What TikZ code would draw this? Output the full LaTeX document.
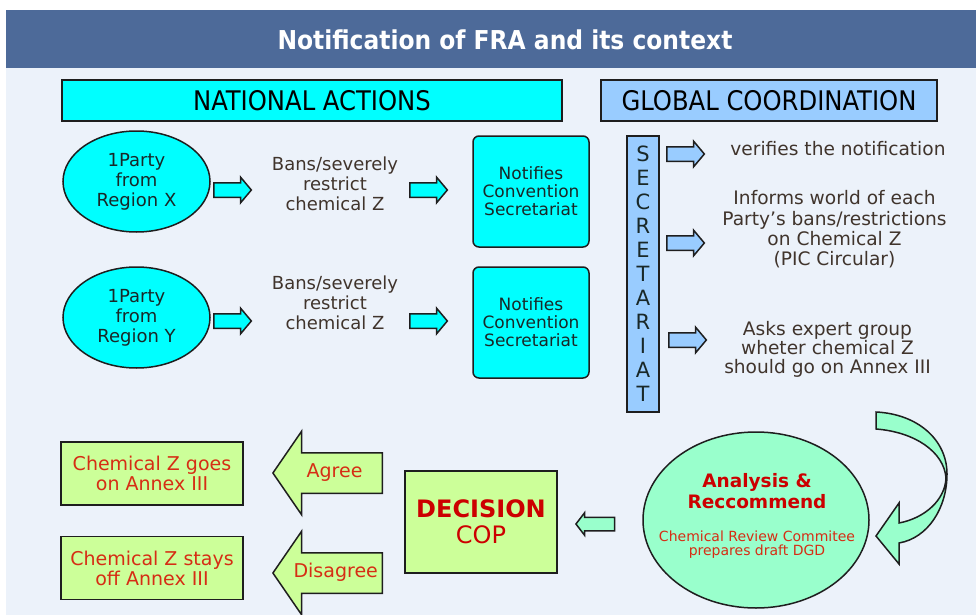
\documentclass[tikz,border=0pt]{standalone}
\usepackage{fontspec}
\setmainfont{DejaVu Sans}
\newfontfamily\condfont{DejaVu Sans Condensed}
\usetikzlibrary{shapes.geometric,shapes.arrows}

\definecolor{barblue}{RGB}{77,106,153}
\definecolor{bgpale}{RGB}{236,242,250}
\definecolor{cyanf}{RGB}{0,255,255}
\definecolor{bluef}{RGB}{153,204,255}
\definecolor{greenf}{RGB}{204,255,153}
\definecolor{aquaf}{RGB}{153,255,204}
\definecolor{edge}{RGB}{30,30,30}
\definecolor{greytext}{RGB}{64,52,44}
\definecolor{darktext}{RGB}{25,40,40}
\definecolor{redtext}{RGB}{214,45,20}
\definecolor{deepred}{RGB}{204,0,0}

\begin{document}
\begin{tikzpicture}[x=1pt,y=-1pt,
  box/.style={draw=edge,line width=1.5pt},
  txt/.style={align=center,text=greytext,font=\fontsize{18}{20}\selectfont},
  party/.style={box,ellipse,fill=cyanf,inner sep=0pt,minimum width=147,minimum height=101,
    align=center,text=darktext,font=\fontsize{18}{20}\selectfont},
  notif/.style={box,rounded corners=6,fill=cyanf,minimum width=116,minimum height=111,
    align=center,text=darktext,font=\fontsize{17}{18}\selectfont},
  result/.style={box,fill=greenf,minimum width=182,minimum height=63,align=center,
    text=redtext,font=\fontsize{19}{20}\selectfont},
  rarrow/.style={box,single arrow,inner xsep=15,inner ysep=6.5,single arrow head extend=5.5,
    single arrow tip angle=100,minimum width=0,minimum height=0,anchor=tail},
  larrow/.style={box,single arrow,shape border rotate=180,fill=greenf,text width=82pt,
    align=center,inner xsep=6,inner ysep=11.5,text height=12pt,text depth=4pt,
    single arrow head extend=21.5,single arrow tip angle=111,minimum width=0,minimum height=0,
    anchor=tip,text=redtext,font=\fontsize{19}{20}\selectfont}]
\useasboundingbox (0,0) rectangle (976,615);
\fill[white] (0,0) rectangle (976,615);
\fill[bgpale] (6,10) rectangle (976,615);
\fill[barblue] (6,10) rectangle (976,68);
\node[text=white,font=\condfont\bfseries\fontsize{26}{28}\selectfont] (title) at (505,40) {Notification of FRA and its context};

% headers
\node[box,fill=cyanf,minimum width=500,minimum height=41,font=\condfont\fontsize{27}{28}\selectfont] (nat) at (312,100.5) {NATIONAL ACTIONS};
\node[box,fill=bluef,minimum width=336,minimum height=41,font=\condfont\fontsize{27}{28}\selectfont] (glob) at (769,100.5) {GLOBAL COORDINATION};

% national actions
\node[party] (px) at (136.5,181.5) {1Party\\from\\Region X};
\node[party] (py) at (136.5,317.5) {1Party\\from\\Region Y};
\node[rarrow,fill=cyanf] (ax1) at (213,190) {};
\node[rarrow,fill=cyanf] (ay1) at (213,321) {};
\node[txt] (banx) at (335,184) {Bans/severely\\restrict\\chemical Z};
\node[txt] (bany) at (335,303) {Bans/severely\\restrict\\chemical Z};
\node[rarrow,fill=cyanf] (ax2) at (409,190) {};
\node[rarrow,fill=cyanf] (ay2) at (409,321) {};
\node[notif] (nx) at (531,191.5) {Notifies\\Convention\\Secretariat};
\node[notif] (ny) at (531,322.5) {Notifies\\Convention\\Secretariat};

% global coordination
\node[box,fill=bluef,minimum width=32,minimum height=276,inner sep=1pt,align=center,
  text=darktext,font=\fontsize{21}{24}\selectfont] (sec) at (643,274) {S\\E\\C\\R\\E\\T\\A\\R\\I\\A\\T};
\node[rarrow,fill=bluef] (g1) at (666,154) {};
\node[rarrow,fill=bluef] (g2) at (666,243) {};
\node[rarrow,fill=bluef] (g3) at (668,340) {};
\node[txt,font=\fontsize{18.6}{20}\selectfont] (verif) at (838,149) {verifies the notification};
\node[txt,font=\fontsize{18.6}{20.4}\selectfont] (inform) at (834.5,229.5) {Informs world of each\\Party's bans/restrictions\\on Chemical Z\\(PIC Circular)};
\node[txt,font=\fontsize{18.6}{18.7}\selectfont] (asks) at (827.5,349.5) {Asks expert group\\wheter chemical Z\\should go on Annex III};

% analysis and decision
\filldraw[box,fill=aquaf] (876,412) .. controls (918,414) and (947,440) .. (947,474)
  .. controls (947,508) and (928,538) .. (899,543) -- (899,564) -- (876,536) -- (899,503)
  -- (899,523) .. controls (925,518) and (945,500) .. (946,478)
  .. controls (944,452) and (915,432) .. (876,429) -- cycle;
\node[box,ellipse,fill=aquaf,minimum width=226,minimum height=176] (ana) at (756,520) {};
\node[align=center,text=deepred,font=\fontsize{18.5}{21}\selectfont\bfseries] (anatxt) at (757,491.5) {Analysis \&\\Reccommend};
\node[align=center,text=redtext,font=\fontsize{14}{14}\selectfont] (crc) at (757,545) {Chemical Review Commitee\\prepares draft DGD};
\node[box,single arrow,shape border rotate=180,fill=aquaf,inner xsep=16,inner ysep=6,
  single arrow head extend=4.5,single arrow tip angle=105,minimum width=0,minimum height=0,anchor=tip] (back) at (575,524) {};
\node[box,fill=greenf,minimum width=152,minimum height=102,align=center,text=deepred,
  font=\fontsize{24}{26}\selectfont] (cop) at (481,522) {{\bfseries DECISION}\\COP};
\node[larrow] (agree) at (272,473) {Agree};
\node[larrow] (disagree) at (272,573) {Disagree};
\node[result] (goes) at (152,473.5) {Chemical Z goes\\on Annex III};
\node[result] (stays) at (152,568) {Chemical Z stays\\off Annex III};
\end{tikzpicture}
\end{document}
